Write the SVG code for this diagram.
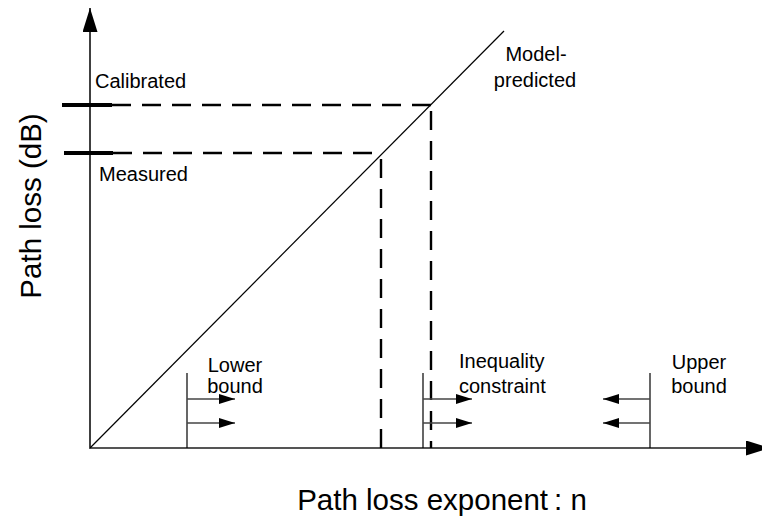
<svg xmlns="http://www.w3.org/2000/svg" width="762" height="519" viewBox="0 0 762 519">
  <style>
    text { font-family: "Liberation Sans", Arial, sans-serif; fill: #000; }
    .lbl { font-size: 20px; }
    .axis-title { font-size: 29.5px; }
    .dash { stroke: #000; stroke-width: 2.4; stroke-dasharray: 19 11; fill: none; }
    .tick { stroke: #000; stroke-width: 4; }
    .bar { stroke: #000; stroke-width: 1.2; }
    .arr { stroke: #444; stroke-width: 1.3; }
  </style>
  <defs>
    <marker id="head" viewBox="0 0 16 10" refX="16" refY="5" markerWidth="16" markerHeight="10" markerUnits="userSpaceOnUse" orient="auto">
      <path d="M0,0 L16,5 L0,10 Z" fill="#000"/>
    </marker>
    <marker id="axhead" viewBox="0 0 24 15" refX="24" refY="7.5" markerWidth="24" markerHeight="15" markerUnits="userSpaceOnUse" orient="auto">
      <path d="M0,0 L24,7.5 L0,15 Z" fill="#000"/>
    </marker>
  </defs>

  <!-- axes -->
  <g id="axes">
    <line x1="90" y1="448" x2="90" y2="8" stroke="#000" stroke-width="1.5" marker-end="url(#axhead)"/>
    <line x1="89" y1="448" x2="770" y2="448" stroke="#555" stroke-width="2" marker-end="url(#axhead)"/>
    <text class="axis-title" transform="translate(41,206) rotate(-90)" text-anchor="middle">Path loss (dB)</text>
    <text class="axis-title" x="442" y="510" text-anchor="middle">Path loss exponent<tspan dx="6">:</tspan> n</text>
  </g>

  <!-- model line -->
  <g id="model">
    <line x1="90" y1="448" x2="504" y2="31" stroke="#000" stroke-width="1.2"/>
    <text class="lbl" x="536" y="61" text-anchor="middle">Model-</text>
    <text class="lbl" x="535" y="87" text-anchor="middle">predicted</text>
  </g>

  <!-- calibrated level -->
  <g id="calibrated">
    <line class="tick" x1="62" y1="105" x2="112" y2="105"/>
    <text class="lbl" x="95" y="88">Calibrated</text>
  </g>

  <!-- measured level -->
  <g id="measured">
    <line class="tick" x1="64" y1="153" x2="113" y2="153"/>
    <text class="lbl" x="99" y="181">Measured</text>
  </g>

  <!-- projections onto the model line and down to the n axis -->
  <g id="connectors">
    <line class="dash" x1="112" y1="105" x2="431" y2="105"/>
    <line class="dash" x1="431" y1="111" x2="431" y2="448"/>
    <line class="dash" x1="113" y1="153" x2="382" y2="153"/>
    <line class="dash" x1="381" y1="159" x2="381" y2="448"/>
  </g>

  <!-- lower bound -->
  <g id="lower-bound">
    <line class="bar" x1="187" y1="373" x2="187" y2="448"/>
    <line class="arr" x1="187" y1="399" x2="235" y2="399" marker-end="url(#head)"/>
    <line class="arr" x1="187" y1="423" x2="235" y2="423" marker-end="url(#head)"/>
    <text class="lbl" x="235" y="372" text-anchor="middle">Lower</text>
    <text class="lbl" x="235" y="393" text-anchor="middle">bound</text>
  </g>

  <!-- inequality constraint -->
  <g id="inequality">
    <line class="bar" x1="423" y1="373" x2="423" y2="448"/>
    <line class="arr" x1="423" y1="399" x2="472" y2="399" marker-end="url(#head)"/>
    <line class="arr" x1="423" y1="423" x2="472" y2="423" marker-end="url(#head)"/>
    <text class="lbl" x="459" y="368">Inequality</text>
    <text class="lbl" x="459" y="393">constraint</text>
  </g>

  <!-- upper bound -->
  <g id="upper-bound">
    <line class="bar" x1="650" y1="373" x2="650" y2="448"/>
    <line class="arr" x1="650" y1="399" x2="603" y2="399" marker-end="url(#head)"/>
    <line class="arr" x1="650" y1="423" x2="603" y2="423" marker-end="url(#head)"/>
    <text class="lbl" x="699" y="369" text-anchor="middle">Upper</text>
    <text class="lbl" x="699" y="393" text-anchor="middle">bound</text>
  </g>
</svg>
